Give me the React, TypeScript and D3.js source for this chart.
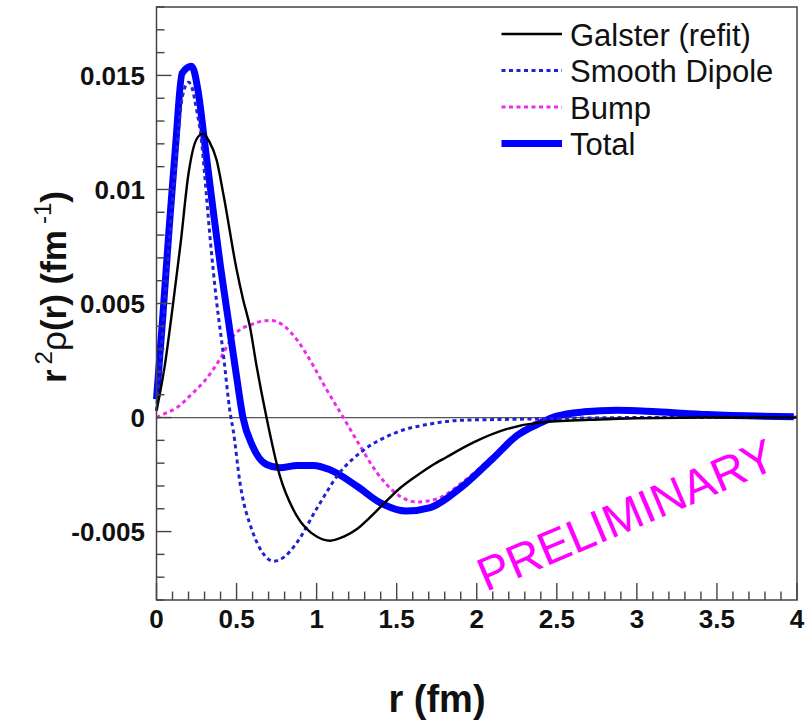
import React from 'react';
import * as d3 from 'd3';

// ---- data ----
const galsterR = [0, 0.05, 0.1, 0.15, 0.2, 0.25, 0.29, 0.33, 0.375, 0.42, 0.5, 0.54, 0.583, 0.625, 0.687, 0.77, 0.875, 1.0, 1.083, 1.17, 1.25, 1.33, 1.416, 1.52, 1.625, 1.72, 1.81, 1.98, 2.19, 2.4, 2.71, 3.0, 3.5, 4.0];
const galsterV = [0.0003, 0.0022, 0.0048, 0.0076, 0.0107, 0.0122, 0.01245, 0.0121, 0.0113, 0.0097, 0.0065, 0.0052, 0.0040, 0.00226, 0.0, -0.00255, -0.0043, -0.00522, -0.0054, -0.00522, -0.0049, -0.0044, -0.0038, -0.0031, -0.00255, -0.0021, -0.00174, -0.00109, -0.0005, -0.00021, -0.0001, -0.00003, 0.0, 0.0];

const dipoleR = [0, 0.04, 0.08, 0.12, 0.16, 0.2, 0.22, 0.25, 0.28, 0.3, 0.333, 0.375, 0.417, 0.46, 0.48, 0.52, 0.6, 0.66, 0.73, 0.8, 0.875, 1.0, 1.146, 1.29, 1.5, 1.71, 1.9, 2.2, 2.6, 3.0, 4.0];
const dipoleV = [0.0003, 0.0040, 0.0078, 0.0112, 0.0140, 0.0147, 0.0145, 0.0135, 0.0122, 0.0107, 0.0080, 0.0051, 0.0028, 0.0002, -0.0006, -0.0028, -0.0050, -0.0059, -0.0063, -0.0061, -0.0055, -0.0040, -0.0024, -0.00145, -0.00065, -0.00028, -0.00012, -0.00008, -0.00003, 0.0, 0.0];

const bumpR = [0, 0.06, 0.12, 0.23, 0.3, 0.396, 0.48, 0.6, 0.708, 0.8, 0.875, 0.98, 1.06, 1.167, 1.27, 1.375, 1.5, 1.625, 1.75, 1.9, 2.1, 2.25, 2.4, 2.5, 2.7, 2.9, 3.2, 3.5, 4.0];
const bumpV = [0, 0.0002, 0.0004, 0.0011, 0.0016, 0.00256, 0.00358, 0.0041, 0.00426, 0.0040, 0.00343, 0.00226, 0.00125, 0.0, -0.00123, -0.0024, -0.00335, -0.0037, -0.00357, -0.0029, -0.0017, -0.0007, -0.0001, 0.0001, 0.00025, 0.0003, 0.00025, 0.00013, 0.00002];

const totalR = [0, 0.04, 0.08, 0.12, 0.16, 0.22, 0.26, 0.3, 0.35, 0.4, 0.45, 0.5, 0.54, 0.6, 0.687, 0.77, 0.88, 0.98, 1.08, 1.25, 1.396, 1.56, 1.71, 1.9, 2.1, 2.25, 2.4, 2.5, 2.67, 2.875, 3.125, 3.44, 3.98];
const totalV = [0.0008, 0.0045, 0.0084, 0.0120, 0.0151, 0.0154, 0.0143, 0.0121, 0.0093, 0.0066, 0.0042, 0.0018, 0.0, -0.00125, -0.00206, -0.0022, -0.0021, -0.0021, -0.00228, -0.0030, -0.00373, -0.0041, -0.00395, -0.00308, -0.0018, -0.0008, -0.00023, 0.00006, 0.00025, 0.00032, 0.00025, 0.00013, 0.00003];

const xTicks = [0, 0.5, 1, 1.5, 2, 2.5, 3, 3.5, 4];
const xTickLabels = ['0', '0.5', '1', '1.5', '2', '2.5', '3', '3.5', '4'];
const yTicks = [-0.005, 0, 0.005, 0.01, 0.015];
const yTickLabels = ['-0.005', '0', '0.005', '0.01', '0.015'];
const legendLabels = ['Galster (refit)', 'Smooth Dipole', 'Bump', 'Total'];

const FONT = '"Liberation Sans", Arial, Helvetica, sans-serif';

export default function App() {
  const W = 811, H = 725;
  const left = 156.5, right = 797, top = 7, bottom = 600;
  const x = d3.scaleLinear().domain([0, 4]).range([left, right]);
  const y = d3.scaleLinear().domain([-0.008, 0.018]).range([bottom, top]);

  const path = (rs: number[], vs: number[]) =>
    d3.line<number>()
      .x((i) => x(rs[i]))
      .y((i) => y(vs[i]))
      .curve(d3.curveMonotoneX)(rs.map((_, i) => i)) as string;

  const xMinor = d3.range(0, 40.5, 1).map((k) => k / 10).filter((v) => Math.abs(v * 2 - Math.round(v * 2)) > 1e-6);
  const yMinor = d3.range(-8, 18.5, 1).map((k) => k / 1000).filter((v) => Math.abs(v / 0.005 - Math.round(v / 0.005)) > 1e-6);

  const axisColor = '#444';
  const dipoleColor = '#2222d4';
  const bumpColor = '#ee2aee';
  const totalColor = '#0000ff';

  const legendY = [34, 70.5, 107, 143.5];
  const legendStyles = [
    { stroke: '#000', width: 2.4, dash: undefined as string | undefined },
    { stroke: dipoleColor, width: 3, dash: '4,3.5' },
    { stroke: bumpColor, width: 3, dash: '4,3.5' },
    { stroke: totalColor, width: 7, dash: undefined as string | undefined },
  ];

  return (
    <svg width={W} height={H} style={{ position: 'absolute', left: 0, top: 0, background: '#fff' }} fontFamily={FONT}>
      <rect x={0} y={0} width={W} height={H} fill="#fff" />
      {/* zero line */}
      <line x1={left} x2={right} y1={y(0)} y2={y(0)} stroke="#555" strokeWidth={1.3} />

      {/* curves */}
      <path d={path(bumpR, bumpV)} fill="none" stroke={bumpColor} strokeWidth={3} strokeDasharray="4,3.5" />
      <path d={path(totalR, totalV)} fill="none" stroke={totalColor} strokeWidth={7} strokeLinejoin="miter" />
      <path d={path(dipoleR, dipoleV)} fill="none" stroke={dipoleColor} strokeWidth={3} strokeDasharray="4,3.5" />
      <path d={path(galsterR, galsterV)} fill="none" stroke="#000" strokeWidth={2.4} />

      {/* frame */}
      <rect x={left} y={top} width={right - left} height={bottom - top} fill="none" stroke={axisColor} strokeWidth={1.5} />

      {/* x ticks */}
      {xTicks.map((t) => (
        <line key={'xt' + t} x1={x(t)} x2={x(t)} y1={bottom} y2={bottom - 17} stroke={axisColor} strokeWidth={1.4} />
      ))}
      {xMinor.map((t) => (
        <line key={'xm' + t} x1={x(t)} x2={x(t)} y1={bottom} y2={bottom - 8.5} stroke={axisColor} strokeWidth={1.4} />
      ))}
      {xTicks.map((t, i) => (
        <text key={'xl' + t} x={x(t)} y={628} textAnchor="middle" fontSize={26} fontWeight="bold" fill="#111">
          {xTickLabels[i]}
        </text>
      ))}

      {/* y ticks */}
      {yTicks.map((t) => (
        <line key={'yt' + t} x1={left} x2={left + 15} y1={y(t)} y2={y(t)} stroke={axisColor} strokeWidth={1.4} />
      ))}
      {yMinor.map((t) => (
        <line key={'ym' + t} x1={left} x2={left + 8} y1={y(t)} y2={y(t)} stroke={axisColor} strokeWidth={1.4} />
      ))}
      {yTicks.map((t, i) => (
        <text key={'yl' + t} x={145} y={y(t) + 9.5} textAnchor="end" fontSize={26} fontWeight="bold" fill="#111">
          {yTickLabels[i]}
        </text>
      ))}

      {/* axis titles */}
      <text x={437} y={712} textAnchor="middle" fontSize={38} fontWeight="bold" fill="#111">r (fm)</text>
      <text transform="translate(66,287) rotate(-90)" textAnchor="middle" fontSize={35} fontWeight="bold" fill="#111">
        <tspan>r</tspan>
        <tspan dx={5} dy={-14} fontSize={24} fontWeight="normal">2</tspan>
        <tspan dy={14} fontWeight="normal">ρ</tspan>
        <tspan>(r) (fm</tspan>
        <tspan dx={6} dy={-15} fontSize={24} fontWeight="normal">-1</tspan>
        <tspan dy={15}>)</tspan>
      </text>

      {/* legend */}
      {legendLabels.map((lab, i) => (
        <g key={lab}>
          <line x1={501.5} x2={562} y1={legendY[i]} y2={legendY[i]} stroke={legendStyles[i].stroke}
            strokeWidth={legendStyles[i].width} strokeDasharray={legendStyles[i].dash} />
          <text x={570} y={legendY[i] + 11.5} fontSize={31} fill="#111">{lab}</text>
        </g>
      ))}

      {/* preliminary stamp */}
      <text transform="translate(486,592) rotate(-23)" fontSize={47} fill="#ff00ff">PRELIMINARY</text>
    </svg>
  );
}
